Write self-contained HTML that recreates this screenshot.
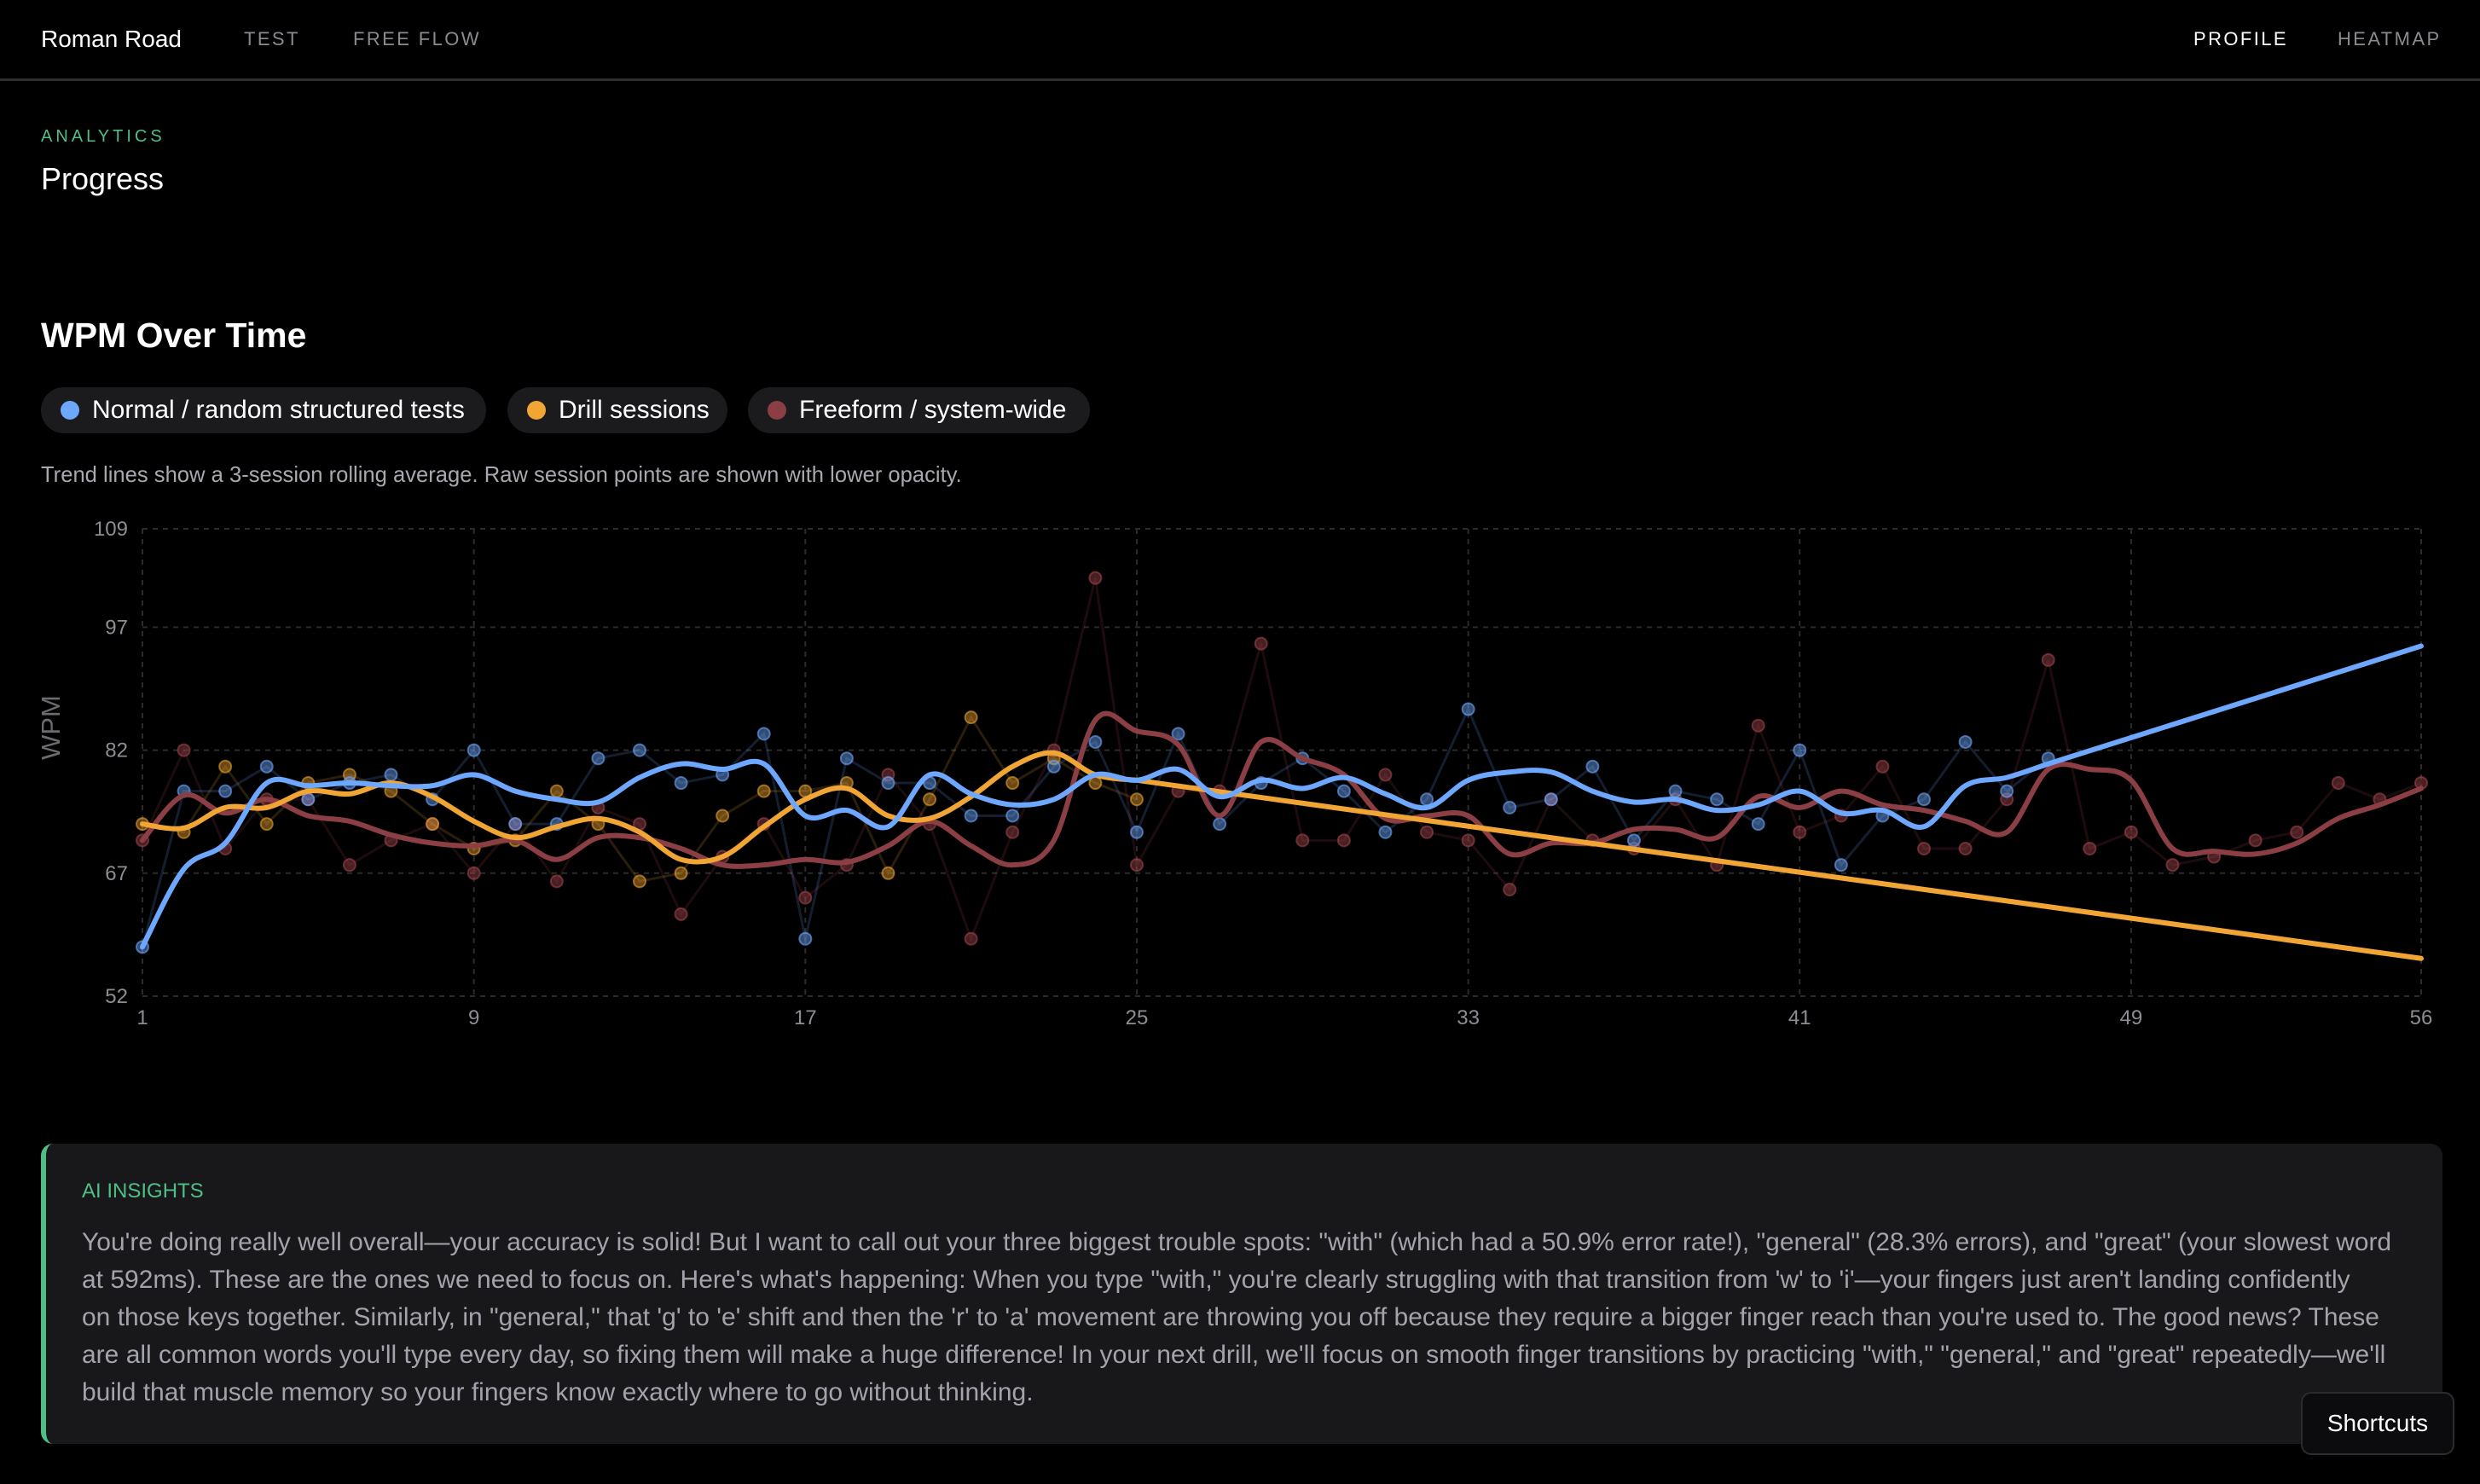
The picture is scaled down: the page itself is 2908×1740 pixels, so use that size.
<!DOCTYPE html>
<html><head><meta charset="utf-8"><title>Progress</title>
<style>
*{box-sizing:border-box;margin:0;padding:0}
html,body{width:2908px;height:1740px;background:#000;overflow:hidden;font-family:"Liberation Sans",sans-serif;color:#fff}
.abs{position:absolute;white-space:nowrap}
#hdr{position:absolute;left:0;top:0;width:2908px;height:95px;border-bottom:3px solid #2e2e2e}
.nav{font-size:22px;letter-spacing:2.4px;color:#8a8a90;top:33px}
.pill{position:absolute;top:454px;height:54px;border-radius:27px;background:#1b1b1e;font-size:30px;line-height:54px;padding-left:60px;color:#fff}
.pill i{position:absolute;left:23px;top:16px;width:22px;height:22px;border-radius:50%}
#ai{position:absolute;left:48px;top:1341px;width:2816px;height:352px;background:#18181b;border-radius:14px;border-left:6px solid #4fbf85}
#ai p{position:absolute;left:42px;top:94px;font-size:30px;line-height:44px;color:#a3a3ab;white-space:nowrap}
</style></head><body>
<div id="hdr">
 <div class="abs" style="left:48px;top:30px;font-size:28px">Roman Road</div>
 <div class="abs nav" style="left:286px">TEST</div>
 <div class="abs nav" style="left:414px">FREE FLOW</div>
 <div class="abs nav" style="left:2572px;color:#fff">PROFILE</div>
 <div class="abs nav" style="left:2741px">HEATMAP</div>
</div>
<div class="abs" style="left:48px;top:149px;font-size:20px;letter-spacing:4px;color:#4fbf85">ANALYTICS</div>
<div class="abs" style="left:48px;top:189px;font-size:36px">Progress</div>
<div class="abs" style="left:48px;top:370px;font-size:41px;font-weight:bold">WPM Over Time</div>
<div class="pill" style="left:48px;width:522px"><i style="background:#6ea8fe"></i>Normal / random structured tests</div>
<div class="pill" style="left:595px;width:258px"><i style="background:#f0a535"></i>Drill sessions</div>
<div class="pill" style="left:877px;width:401px"><i style="background:#8b3f45"></i>Freeform / system-wide</div>
<div class="abs" style="left:48px;top:543px;font-size:25.6px;color:#a8a8ae">Trend lines show a 3-session rolling average. Raw session points are shown with lower opacity.</div>
<svg id="chart" style="position:absolute;left:0;top:600px" width="2908" height="640"></svg>
<div id="ai">
 <div class="abs" style="left:42px;top:42px;font-size:24px;color:#4fbf85">AI INSIGHTS</div>
 <p>You're doing really well overall—your accuracy is solid! But I want to call out your three biggest trouble spots: "with" (which had a 50.9% error rate!), "general" (28.3% errors), and "great" (your slowest word<br>at 592ms). These are the ones we need to focus on. Here's what's happening: When you type "with," you're clearly struggling with that transition from 'w' to 'i'—your fingers just aren't landing confidently<br>on those keys together. Similarly, in "general," that 'g' to 'e' shift and then the 'r' to 'a' movement are throwing you off because they require a bigger finger reach than you're used to. The good news? These<br>are all common words you'll type every day, so fixing them will make a huge difference! In your next drill, we'll focus on smooth finger transitions by practicing "with," "general," and "great" repeatedly—we'll<br>build that muscle memory so your fingers know exactly where to go without thinking.</p>
</div>
<div class="abs" style="left:2698px;top:1632px;width:180px;height:74px;border:2px solid #2c2c2e;border-radius:12px;background:#0c0c0e;font-size:28px;line-height:70px;text-align:center">Shortcuts</div>
<script>
const xTicks=[1,9,17,25,33,41,49,56];
const yTicks=[52,67,82,97,109];
const normalWpm=[58,77,77,80,76,78,79,76,82,73,73,81,82,78,79,84,59,81,78,78,74,74,80,83,72,84,73,78,81,77,72,76,87,75,76,80,71,77,76,73,82,68,74,76,83,77,81];
const drillWpm=[73,72,80,73,78,79,77,73,70,71,77,73,66,67,74,77,77,78,67,76,86,78,81,78,76];
const freeWpm=[71,82,70,76,76,68,71,73,67,73,66,75,73,62,69,73,64,68,79,73,59,72,82,103,68,77,77,95,71,71,79,72,71,65,76,71,70,76,68,85,72,74,80,70,70,76,93,70,72,68,69,71,72,78,76,78];
const normalProjEnd=94.7;
const drillProjEnd=56.6;
const svg=document.getElementById('chart');
const NS='http://www.w3.org/2000/svg';
const X0=167,X1=2839,Y0=620-600,Y1=1168-600,xmin=1,xmax=56,ymin=52,ymax=109;
function X(i){return X0+(i-xmin)*(X1-X0)/(xmax-xmin);}
function Y(v){return Y1-(v-ymin)*(Y1-Y0)/(ymax-ymin);}
function mk(t,a){const e=document.createElementNS(NS,t);for(const k in a)e.setAttribute(k,a[k]);svg.appendChild(e);return e;}
yTicks.forEach(v=>{
 const g=mk('line',{x1:X0,x2:X1,y1:Y(v),y2:Y(v),stroke:'#2b2b2b','stroke-width':2,'stroke-dasharray':'6 6'});
 
 
 const t=mk('text',{x:150,y:Y(v)+8,'text-anchor':'end',fill:'#8d8d93','font-size':24,'font-family':'Liberation Sans, sans-serif'});
 t.textContent=v;
 
 
});
xTicks.forEach(v=>{
 const g=mk('line',{x1:X(v),x2:X(v),y1:Y0,y2:Y1,stroke:'#2b2b2b','stroke-width':2,'stroke-dasharray':'6 6'});
 
 
 const t=mk('text',{x:X(v),y:Y1+33,'text-anchor':'middle',fill:'#8d8d93','font-size':24,'font-family':'Liberation Sans, sans-serif'});
 t.textContent=v;
 
 
});
const yt=mk('text',{x:0,y:0,transform:'translate(70,253) rotate(-90)','text-anchor':'middle',fill:'#6b6b70','font-size':31,'font-family':'Liberation Sans, sans-serif'});
yt.textContent='WPM';


function roll(a){return a.map((v,i)=>{const s=a.slice(Math.max(0,i-2),i+1);return s.reduce((p,c)=>p+c,0)/s.length;});}
function smooth(pts){let d='M'+pts[0][0]+','+pts[0][1];for(let i=0;i<pts.length-1;i++){const p0=pts[i-1]||pts[i],p1=pts[i],p2=pts[i+1],p3=pts[i+2]||p2;d+=' C'+(p1[0]+(p2[0]-p0[0])/6)+','+(p1[1]+(p2[1]-p0[1])/6)+' '+(p2[0]-(p3[0]-p1[0])/6)+','+(p2[1]-(p3[1]-p1[1])/6)+' '+p2[0]+','+p2[1];}return d;}
function series(data,color,name){
 const pts=data.map((v,i)=>[X(i+1),Y(v)]);
 const raw=mk('polyline',{points:pts.map(p=>p.join(',')).join(' '),fill:'none',stroke:color,'stroke-opacity':0.18,'stroke-width':3});
 
 
 pts.forEach(p=>{const c=mk('circle',{cx:p[0],cy:p[1],r:7,fill:color,'fill-opacity':0.45,stroke:color,'stroke-opacity':0.6,'stroke-width':2});
  
  });
 return pts;
}
function trend(data,color,name,projEnd){
 const r=roll(data);
 const pts=r.map((v,i)=>[X(i+1),Y(v)]);
 const p=mk('path',{d:smooth(pts),fill:'none',stroke:color,'stroke-width':6,'stroke-linecap':'round','stroke-linejoin':'round'});
 
 
 if(projEnd!=null){
  const last=pts[pts.length-1];
  const l=mk('line',{x1:last[0],y1:last[1],x2:X(xmax),y2:Y(projEnd),stroke:color,'stroke-width':6,'stroke-linecap':'round'});
  
  
 }
}
series(freeWpm,'#a0444c','freeform');
series(drillWpm,'#e8a030','drill');
series(normalWpm,'#6ea8fe','normal');
trend(freeWpm,'#8b3f45','freeform',null);
trend(drillWpm,'#f0a535','drill',drillProjEnd);
trend(normalWpm,'#6ea8fe','normal',normalProjEnd);
</script>
</body></html>
